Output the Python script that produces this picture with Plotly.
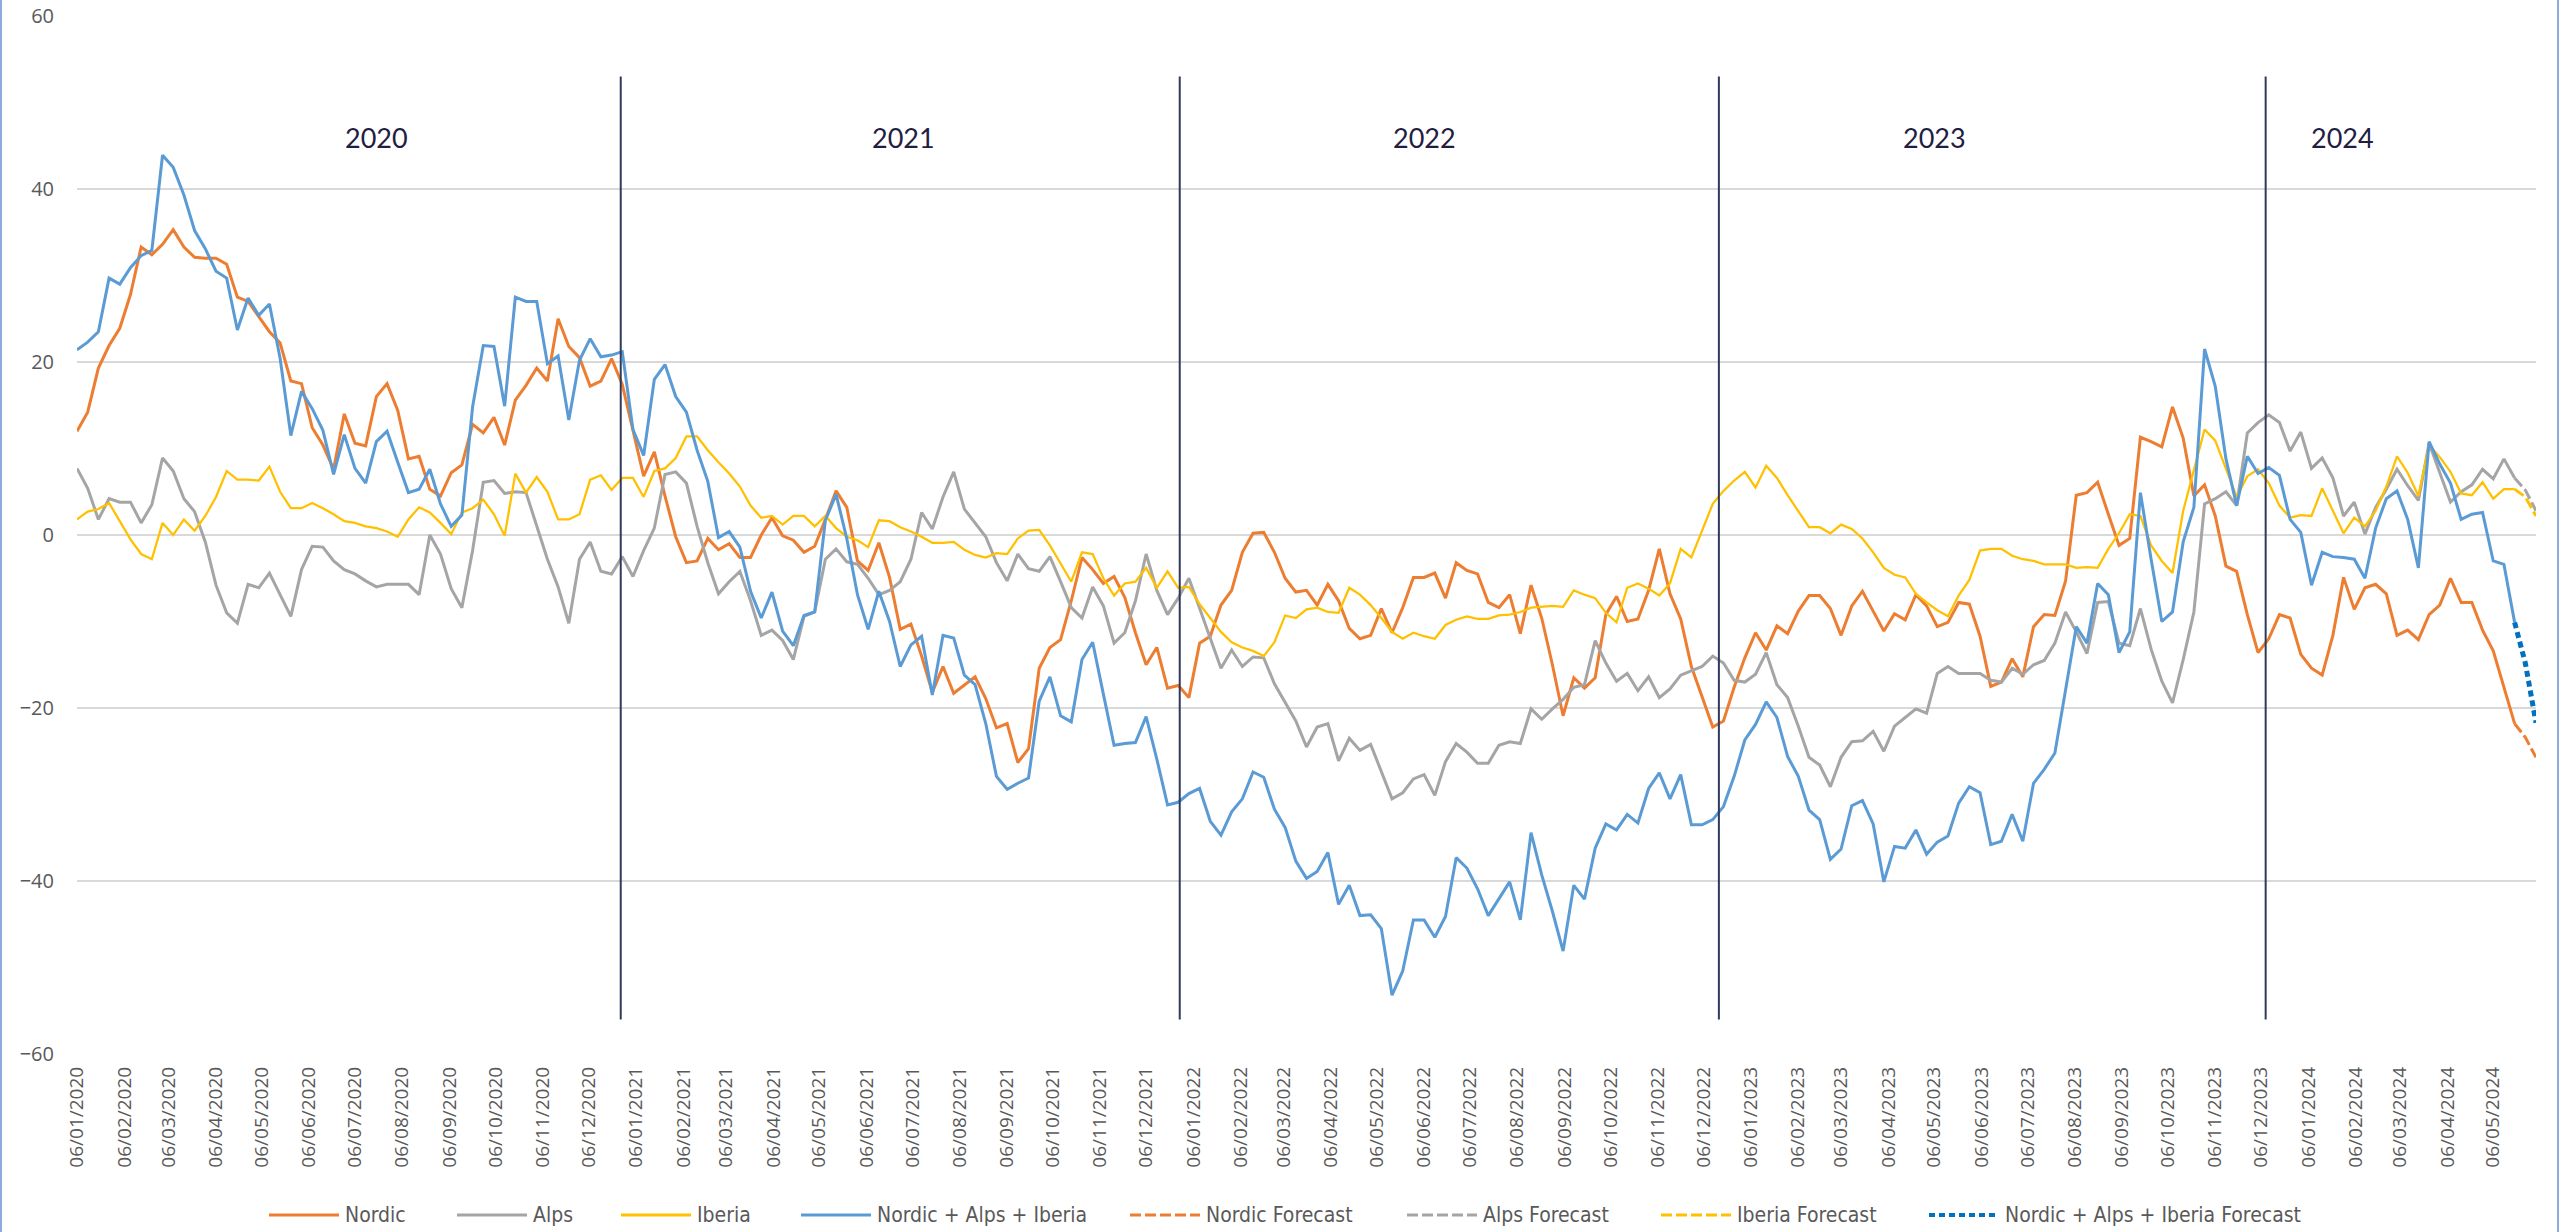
import pandas as pd
import plotly.graph_objects as go

# ---------------- data (weekly, starting Monday 06/01/2020) ----------------
start_date = "2020-01-06"

nordic = [
    12.0, 14.2, 19.3, 21.9, 23.9, 27.8, 33.3, 32.4, 33.6, 35.3, 33.3, 32.1, 32.0, 32.0, 31.3, 27.5, 27.0, 25.3, 23.5, 22.2,
    17.8, 17.5, 12.4, 10.4, 7.6, 14.0, 10.6, 10.3, 16.0, 17.5, 14.4, 8.8, 9.1, 5.3, 4.5, 7.2, 8.1, 12.8, 11.8,
    13.6, 10.4, 15.6, 17.3, 19.3, 17.8, 25.0, 21.8, 20.5, 17.2, 17.8, 20.4, 17.4, 12.0, 6.8, 9.6, 4.5, -0.2, -3.2, -3.0,
    -0.4, -1.7, -1.0, -2.6, -2.6, 0.0, 2.0, -0.1, -0.6, -2.0, -1.3, 1.8, 5.1, 3.2, -3.0, -4.1, -0.9, -4.9, -10.9,
    -10.3, -14.0, -18.2, -15.2, -18.3, -17.3, -16.4, -18.9, -22.3, -21.8, -26.3, -24.7, -15.4, -13.0, -12.1, -7.6, -2.6,
    -4.0, -5.6, -4.8, -7.2, -11.3, -15.0, -13.0, -17.7, -17.4, -18.8, -12.5, -11.7, -8.1, -6.4, -2.0, 0.2, 0.3, -2.0,
    -5.0, -6.6, -6.4,
    -8.1, -5.7, -7.6, -10.8, -12.0, -11.6, -8.5, -11.3, -8.4, -4.9, -4.9, -4.4, -7.3, -3.2, -4.1, -4.5, -7.8, -8.4, -6.9,
    -11.4, -5.8, -9.6, -15.0, -20.9, -16.5, -17.7, -16.5, -9.2, -7.1, -10.0, -9.7, -6.4, -1.6, -6.8, -9.7, -15.2, -18.8,
    -22.2,
    -21.5, -17.6, -14.2, -11.3, -13.3, -10.5, -11.4, -8.8, -7.0, -7.0, -8.5, -11.6, -8.2, -6.5, -8.8, -11.1, -9.1, -9.8,
    -6.9, -8.2, -10.6, -10.1, -7.8, -8.0, -11.7, -17.5, -17.0, -14.3, -16.4, -10.6, -9.2, -9.3, -5.3, 4.6, 4.9, 6.1, 2.4,
    -1.2, -0.4,
    11.3, 10.8, 10.2, 14.8, 11.2, 4.5, 5.8, 2.2, -3.6, -4.2, -9.2, -13.6, -12.0, -9.2, -9.6, -13.8, -15.4, -16.2, -11.6,
    -4.9, -8.6, -6.1, -5.7, -6.8, -11.6, -11.0, -12.1, -9.2, -8.1, -5.0, -7.8, -7.8, -11.0, -13.4, -17.6, -21.8,
]

alps = [
    7.7, 5.4, 1.8, 4.2, 3.8, 3.8, 1.4, 3.5, 8.9, 7.4, 4.2, 2.7, -0.8, -5.8, -9.0, -10.2, -5.7, -6.1, -4.4, -6.9, -9.4,
    -4.0, -1.3, -1.4, -3.0, -4.0, -4.5, -5.3, -6.0, -5.7, -5.7, -5.7, -6.9, 0.0, -2.2, -6.2, -8.4, -1.8, 6.1,
    6.3, 4.8, 5.0, 4.9, 1.0, -2.8, -6.0, -10.2, -2.8, -0.8, -4.2, -4.5, -2.5, -4.8, -1.8, 0.8, 7.0, 7.3, 6.0, 1.0, -3.2,
    -6.8, -5.4, -4.2, -7.6, -11.6, -11.0, -12.2, -14.4, -9.4, -8.9, -2.8, -1.6, -3.1, -3.4, -5.0, -6.9, -6.4, -5.4,
    -2.8, 2.6, 0.7, 4.4, 7.3, 3.0, 1.4, -0.2, -3.2, -5.3, -2.2, -3.9, -4.2, -2.5, -5.4, -8.4, -9.6, -6.0, -8.2, -12.5,
    -11.3, -7.6, -2.2, -6.4, -9.2, -7.3, -5.0, -8.5, -12.0, -15.4, -13.3, -15.2, -14.1, -14.2, -17.2, -19.4, -21.5, -24.5,
    -22.2, -21.8, -26.1, -23.5, -24.9, -24.2, -27.4, -30.5, -29.8, -28.2, -27.7, -30.1, -26.2, -24.1, -25.1, -26.4, -26.4,
    -24.3, -23.9, -24.1, -20.1, -21.3, -20.1, -19.0, -17.6, -17.3, -12.2, -14.8, -16.9, -16.0, -18.0, -16.4, -18.8, -17.8,
    -16.2, -15.7, -15.2, -14.0,
    -14.8, -16.8, -17.0, -16.1, -13.6, -17.3, -18.8, -22.1, -25.7, -26.6, -29.1, -25.7, -23.9, -23.8, -22.7, -25.0, -22.1,
    -21.1, -20.1, -20.6, -16.0, -15.2, -16.0, -16.0, -16.0, -16.8, -17.0, -15.4, -16.1, -15.0, -14.5, -12.5, -8.9, -11.2,
    -13.7, -7.8, -7.7, -12.5, -12.8,
    -8.5, -13.2, -16.9, -19.4, -14.4, -8.9, 3.6, 4.2, 5.0, 3.4, 11.8, 13.0, 13.9, 13.0, 9.7, 11.9, 7.7, 8.9, 6.6, 2.2,
    3.8, 0.1, 3.2, 5.3, 7.6, 5.7, 4.0, 10.6, 7.2, 3.8, 5.0, 5.8, 7.6, 6.5, 8.8, 6.6,
]

iberia = [
    1.8, 2.7, 3.0, 3.7, 1.6, -0.5, -2.2, -2.8, 1.4, 0.0, 1.8, 0.5, 2.2, 4.4, 7.4, 6.4, 6.4, 6.3, 7.9, 5.0, 3.1, 3.1,
    3.7, 3.1, 2.4, 1.6, 1.4, 1.0, 0.8, 0.4, -0.2, 1.8, 3.2, 2.6, 1.4, 0.1, 2.6, 3.1, 4.1,
    2.4, -0.1, 7.1, 4.9, 6.7, 5.0, 1.8, 1.8, 2.4, 6.4, 6.9, 5.2, 6.6, 6.6, 4.4, 7.4, 7.7, 8.9, 11.4, 11.4, 9.8, 8.4, 7.1,
    5.6, 3.4, 2.0, 2.2, 1.2, 2.2, 2.2, 1.0, 2.2, 0.8, -0.2, -0.6, -1.4, 1.7, 1.6, 0.9,
    0.4, -0.2, -0.9, -0.9, -0.8, -1.7, -2.3, -2.6, -2.1, -2.2, -0.4, 0.5, 0.6, -1.2, -3.3, -5.4, -2.0, -2.2, -5.0, -7.0,
    -5.6, -5.4, -3.8, -6.1, -4.2, -6.1, -6.0, -8.0, -9.6, -11.2, -12.4, -13.0, -13.4, -14.0, -12.4, -9.3, -9.6, -8.6,
    -8.4, -8.9, -9.0, -6.1, -6.9, -8.1, -9.6, -11.2, -12.0, -11.3, -11.7, -12.0, -10.4, -9.8, -9.4, -9.7, -9.7, -9.3,
    -9.2, -8.9, -8.4, -8.3, -8.2, -8.3, -6.4, -6.9, -7.3, -9.0, -10.1, -6.1, -5.6, -6.2, -7.0, -5.6, -1.6, -2.6, 0.4, 3.6,
    5.1, 6.3, 7.3, 5.5, 8.0, 6.6, 4.6, 2.8, 0.9, 0.9, 0.2, 1.2, 0.7, -0.4, -2.0, -3.8, -4.6, -4.9, -6.8, -7.8, -8.7, -9.4,
    -7.0, -5.2, -1.8, -1.6, -1.6, -2.4, -2.8, -3.0, -3.4, -3.4, -3.4, -3.8, -3.7, -3.8, -1.6, 0.2, 2.4,
    2.2, -1.2, -3.0, -4.4, 2.8, 7.6, 12.2, 10.9, 7.6, 4.4, 6.8, 7.6, 6.0, 3.4, 2.0, 2.3, 2.2, 5.4, 2.8, 0.2, 2.0, 1.0,
    2.8, 5.6, 9.1, 7.2, 4.5, 10.4, 9.0, 7.3, 4.8, 4.6, 6.1, 4.2, 5.3, 5.3,
]

total = [
    21.4, 22.3, 23.5, 29.7, 29.0, 30.9, 32.3, 32.9, 43.9, 42.5, 39.3, 35.2, 33.1, 30.5, 29.7, 23.7, 27.4, 25.4, 26.7,
    20.4, 11.5, 16.6, 14.6, 12.1, 7.0, 11.6, 7.7, 6.0, 10.8, 12.0, 8.4, 4.9, 5.3, 7.6, 3.6, 1.0, 2.3, 14.8, 21.9,
    21.8, 14.9, 27.5, 27.0, 27.0, 19.8, 20.7, 13.3, 20.2, 22.7, 20.6, 20.8, 21.2, 12.2, 9.2, 18.0, 19.7, 16.0, 14.2, 9.8,
    6.2, -0.3, 0.4, -1.4, -6.5, -9.6, -6.6, -11.1, -12.8, -9.3, -8.9, 1.7, 4.7, -0.4, -6.9, -10.9, -6.5, -10.0, -15.2,
    -12.7, -11.7, -18.5, -11.6, -11.9, -16.2, -17.3, -21.8, -27.9, -29.4, -28.7, -28.1, -19.2, -16.4, -20.9, -21.6, -14.4,
    -12.4, -18.4, -24.3, -24.1, -24.0, -21.0, -25.9, -31.2, -30.9, -29.9, -29.3, -33.1, -34.7, -32.0, -30.5, -27.4, -28.0,
    -31.7, -33.8, -37.7, -39.7,
    -38.9, -36.7, -42.7, -40.5, -44.0, -43.9, -45.5, -53.2, -50.4, -44.5, -44.5, -46.5, -44.1, -37.3, -38.5, -40.9, -44.0,
    -42.1, -40.1, -44.5, -34.4, -39.3, -43.5, -48.1, -40.5, -42.1, -36.2, -33.4, -34.1, -32.3, -33.3, -29.3, -27.5, -30.5,
    -27.7, -33.5, -33.5, -32.9,
    -31.4, -27.9, -23.7, -21.9, -19.3, -21.1, -25.6, -27.9, -31.8, -32.9, -37.5, -36.3, -31.3, -30.7, -33.4, -40.1, -36.0,
    -36.2, -34.1, -36.9, -35.5, -34.8, -31.0, -29.1, -29.8, -35.8, -35.4, -32.3, -35.4, -28.7, -27.1, -25.2, -18.0, -10.6,
    -12.5, -5.6, -6.9, -13.6, -11.2,
    4.9, -2.8, -10.0, -8.9, -0.8, 3.2, 21.5, 17.2, 8.8, 3.4, 9.1, 7.1, 7.8, 6.9, 1.8, 0.3, -5.8, -2.0, -2.5, -2.6, -2.8,
    -5.0, 0.8, 4.2, 5.1, 1.8, -3.8, 10.8, 8.2, 6.0, 1.8, 2.4, 2.6, -3.0, -3.4, -10.1,
]

# forecasts: last actual week + 2 forecast weeks
nordic_fc = [-21.8, -23.4, -25.7]
alps_fc = [6.6, 5.2, 2.8]
iberia_fc = [5.3, 4.4, 2.2]
total_fc = [-10.1, -14.8, -21.7]

# year separators and year labels
separator_dates = ["2020-12-27", "2021-12-28", "2022-12-16", "2023-12-09"]
year_labels = ["2020", "2021", "2022", "2023", "2024"]
year_label_dates = ["2020-07-20", "2021-06-30", "2022-06-06", "2023-05-06", "2024-01-28"]

# ---------------- layout constants (pixels) ----------------
W, H = 2560, 1232
ML, MR, MT, MB = 77, 24, 16, 178
PW, PH = W - ML - MR, H - MT - MB


def px_x(px):
    return (px - ML) / PW


def px_y(py):
    return (H - MB - py) / PH


# ---------------- build ----------------
n_act = len(nordic)
dates = pd.date_range(start_date, periods=n_act + len(nordic_fc) - 1, freq="7D")
act_dates = dates[:n_act]
fc_dates = dates[n_act - 1:]

C_NORDIC = "#ED7D31"
C_ALPS = "#A5A5A5"
C_IBERIA = "#FFC000"
C_TOTAL = "#5B9BD5"
C_TOTAL_FC = "#0070C0"
DASH = "11px,4px"
DOT = "6px,4px"

series = [
    ("Nordic", act_dates, nordic, C_NORDIC, 3, "solid"),
    ("Alps", act_dates, alps, C_ALPS, 3, "solid"),
    ("Iberia", act_dates, iberia, C_IBERIA, 2.25, "solid"),
    ("Nordic + Alps + Iberia", act_dates, total, C_TOTAL, 3, "solid"),
    ("Nordic Forecast", fc_dates, nordic_fc, C_NORDIC, 3, DASH),
    ("Alps Forecast", fc_dates, alps_fc, C_ALPS, 3, DASH),
    ("Iberia Forecast", fc_dates, iberia_fc, C_IBERIA, 3, DASH),
    ("Nordic + Alps + Iberia Forecast", fc_dates, total_fc, C_TOTAL_FC, 5, DOT),
]

fig = go.Figure()
for name, xs, vals, col, w, d in series:
    fig.add_trace(go.Scatter(x=xs, y=vals, name=name, mode="lines", showlegend=False,
                             line=dict(color=col, width=w, dash=d)))

for d in separator_dates:
    fig.add_shape(type="line", xref="x", yref="y", x0=d, x1=d, y0=-56, y1=53,
                  line=dict(color="#2E3A5C", width=2), layer="above")

for lab, d in zip(year_labels, year_label_dates):
    fig.add_annotation(x=d, y=46, xref="x", yref="y", text=lab, showarrow=False,
                       font=dict(family="Lato, Open Sans, sans-serif", size=27, color="#1F2041"))

# legend (drawn below the axis, Excel-style spacing)
legend_line_x = [269, 457, 621, 801, 1130, 1407, 1661, 1929]
LEG_LINE_LEN = 70
LEG_Y = 1215
for (name, _, _, col, w, d), lx in zip(series, legend_line_x):
    fig.add_shape(type="line", xref="paper", yref="paper",
                  x0=px_x(lx), x1=px_x(lx + LEG_LINE_LEN), y0=px_y(LEG_Y), y1=px_y(LEG_Y),
                  line=dict(color=col, width=min(w, 4) if d != "solid" else 3, dash=d))
    fig.add_annotation(x=px_x(lx + LEG_LINE_LEN + 4), y=px_y(LEG_Y), xref="paper", yref="paper",
                       xanchor="left", yanchor="middle", text=name, showarrow=False,
                       font=dict(family="Liberation Sans Narrow, DejaVu Sans Condensed, Open Sans, sans-serif",
                                 size=21, color="#595959"))

# outer border (left / right edges of the chart area)
for bx in (1, 2558):
    fig.add_shape(type="line", xref="paper", yref="paper", x0=px_x(bx), x1=px_x(bx),
                  y0=px_y(H), y1=px_y(0), line=dict(color="#8FAADC", width=2))

fig.update_layout(
    width=W, height=H,
    margin=dict(l=ML, r=MR, t=MT, b=MB, autoexpand=False),
    paper_bgcolor="white", plot_bgcolor="white",
    showlegend=False,
)
fig.update_xaxes(
    type="date", automargin=False,
    range=[dates[0], dates[-1]],
    tick0=start_date, dtick="M1", tickformat="%d/%m/%Y", tickangle=-90,
    tickfont=dict(family="Open Sans, sans-serif", size=19, color="#595959"),
    showgrid=False, zeroline=False, showline=False, ticks="",
    ticklabelstandoff=8,
)
fig.update_yaxes(
    automargin=False,
    range=[-60, 60], dtick=20, tick0=0,
    tickfont=dict(family="Open Sans, sans-serif", size=20, color="#595959"),
    showgrid=True, gridcolor="#D9D9D9", gridwidth=1.5,
    zeroline=True, zerolinecolor="#D9D9D9", zerolinewidth=1.5,
    showline=False, ticks="", ticklabelstandoff=22,
)

fig.write_html(
    "out.html",
    config={"displayModeBar": False},
    post_script="document.body.style.margin='0px';document.body.style.overflow='hidden';",
)
